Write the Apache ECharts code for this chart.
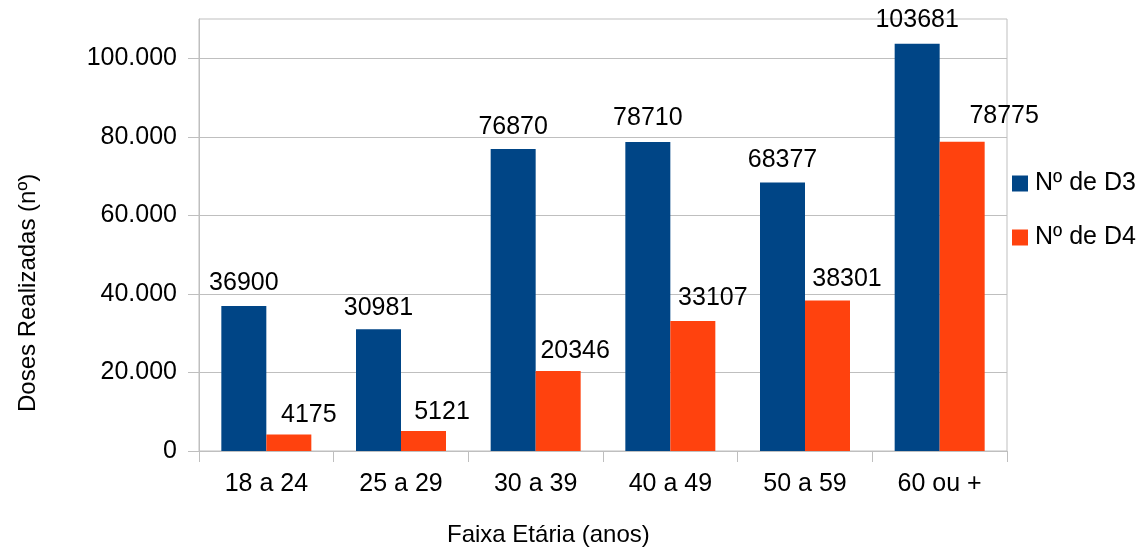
<!DOCTYPE html>
<html>
<head>
<meta charset="utf-8">
<script src="https://cdn.jsdelivr.net/npm/echarts@6/dist/echarts.min.js"></script>
<style>html,body{margin:0;padding:0;background:#fff}#c{width:1144px;height:550px}</style>
</head>
<body>
<div id="c"></div>
<script>
var categories = ['18 a 24', '25 a 29', '30 a 39', '40 a 49', '50 a 59', '60 ou +'];
var d3Values = [36900, 30981, 76870, 78710, 68377, 103681];
var d4Values = [4175, 5121, 20346, 33107, 38301, 78775];
var seriesNames = ['Nº de D3', 'Nº de D4'];
var yTickValues = [0, 20000, 40000, 60000, 80000, 100000];
var xTitle = 'Faixa Etária (anos)';
var yTitle = 'Doses Realizadas (nº)';

// label placement tweaks (styling only)
var d3LabelOffsets = [[0,0],[0,1],[0,0],[0,-1],[0,0],[0,-1]];
var d4LabelOffsets = [[20,3],[18.5,4],[17,3],[20,0],[19.5,1],[42,-3]];

var FONT = 'Liberation Sans, Arial, sans-serif';
var GRAY = '#bfbfbf';

function withLabels(vals, offs) {
  return vals.map(function (v, i) {
    return { value: v, label: { offset: offs[i] } };
  });
}
function fmt(v) {
  return String(v).replace(/\B(?=(\d{3})+(?!\d))/g, '.');
}

var chart = echarts.init(document.getElementById('c'), null, { renderer: 'canvas' });
chart.setOption({
  animation: false,
  backgroundColor: '#fff',
  textStyle: { fontFamily: FONT },
  grid: { left: 199, right: 137, top: 19, bottom: 99, show: true, borderColor: GRAY, borderWidth: 1, backgroundColor: 'transparent' },
  legend: {
    orient: 'vertical', left: 1012, top: 171, padding: 0, itemWidth: 16, itemHeight: 16, itemGap: 29,
    icon: 'rect',
    textStyle: { fontSize: 25, color: '#000', fontFamily: FONT, padding: [0, 0, 0, 2] },
    data: seriesNames
  },
  xAxis: {
    type: 'category', data: categories,
    axisLine: { lineStyle: { color: GRAY } },
    axisTick: { show: true, length: 11, lineStyle: { color: GRAY }, alignWithLabel: false },
    axisLabel: { color: '#000', fontSize: 25, fontFamily: FONT, margin: 21 },
    splitLine: { show: false }
  },
  yAxis: {
    type: 'value', min: 0, max: 110000, interval: 20000,
    axisLine: { show: true, lineStyle: { color: GRAY } },
    axisTick: { show: true, length: 11, lineStyle: { color: GRAY }, customValues: yTickValues },
    axisLabel: {
      color: '#000', fontSize: 25, fontFamily: FONT, margin: 22,
      customValues: yTickValues,
      formatter: function (v) { return fmt(v); }
    },
    splitLine: { show: true, lineStyle: { color: GRAY } }
  },
  graphic: [
    { type: 'text', left: 447, top: 523, style: { text: xTitle, fontSize: 24, fontFamily: FONT, fill: '#000' } },
    { type: 'text', x: 16, y: 412, rotation: Math.PI / 2, style: { text: yTitle, fontSize: 24, fontFamily: FONT, fill: '#000' } }
  ],
  series: [
    {
      name: seriesNames[0], type: 'bar', barWidth: 45, barGap: '0%',
      itemStyle: { color: '#004586' },
      label: { show: true, position: 'top', distance: 10, fontSize: 25, color: '#000', fontFamily: FONT },
      data: withLabels(d3Values, d3LabelOffsets)
    },
    {
      name: seriesNames[1], type: 'bar', barWidth: 45, barGap: '0%',
      itemStyle: { color: '#ff420e' },
      label: { show: true, position: 'top', distance: 10, fontSize: 25, color: '#000', fontFamily: FONT },
      data: withLabels(d4Values, d4LabelOffsets)
    }
  ]
});
</script>
</body>
</html>
